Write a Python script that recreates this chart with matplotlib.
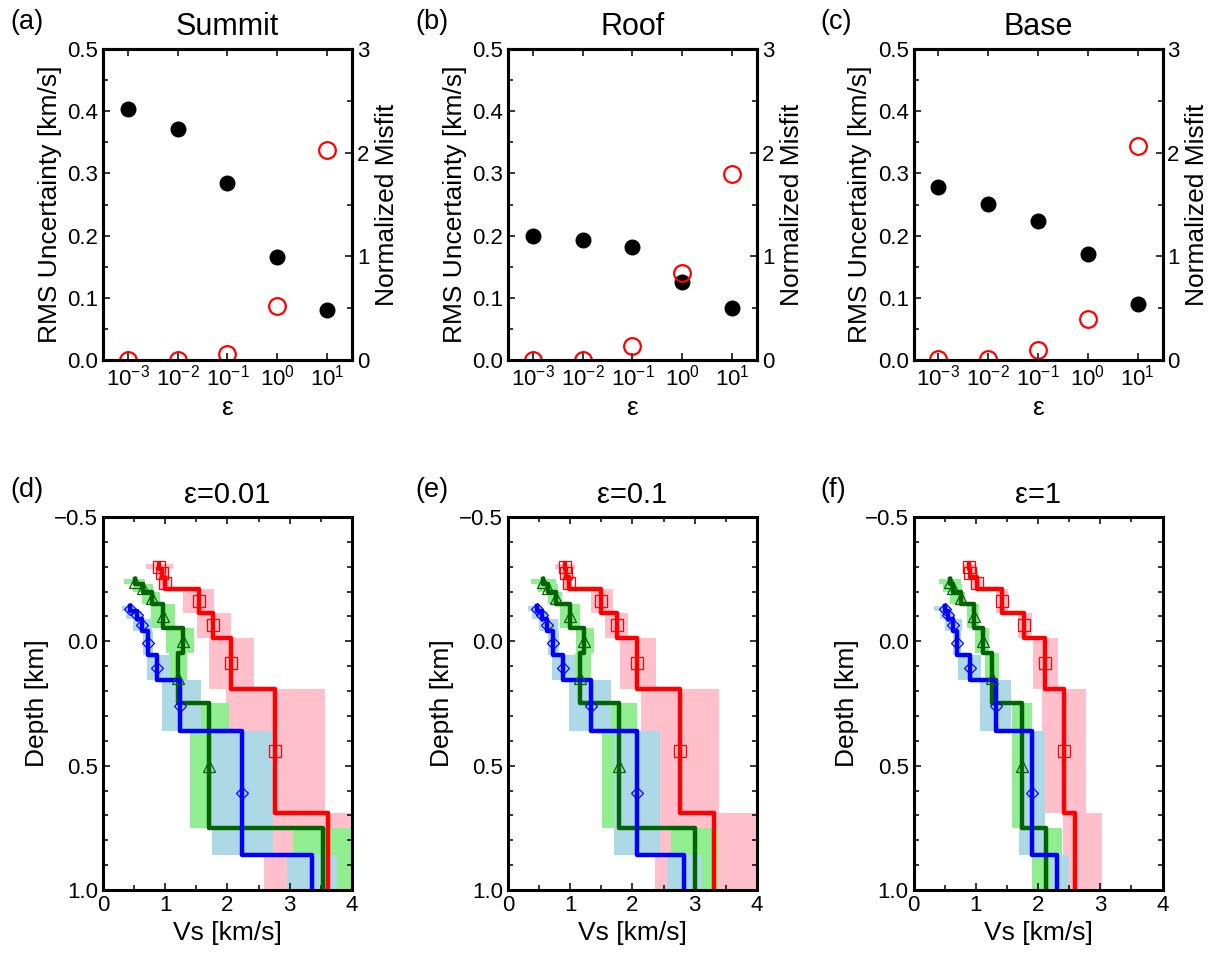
import numpy as np
import matplotlib
matplotlib.use('Agg')
import matplotlib.pyplot as plt
from matplotlib.ticker import MultipleLocator, LogLocator, NullLocator

# epsilon values and summary numbers (top row)
eps = [1e-3, 1e-2, 1e-1, 1e0, 1e1]
rms_summit = [0.403, 0.371, 0.285, 0.166, 0.080]
misfit_summit = [0.0, 0.0, 0.06, 0.52, 2.03]
rms_roof = [0.200, 0.193, 0.181, 0.125, 0.083]
misfit_roof = [0.0, 0.0, 0.135, 0.84, 1.79]
rms_base = [0.278, 0.251, 0.224, 0.171, 0.090]
misfit_base = [0.01, 0.01, 0.10, 0.40, 2.06]

# layer tops [km] for each site (last layer is the half-space)
z_summit = [-0.31, -0.29, -0.26, -0.21, -0.115, -0.013, 0.19, 0.69]
z_roof = [-0.25, -0.23, -0.20, -0.15, -0.053, 0.048, 0.25, 0.75]
z_base = [-0.14, -0.12, -0.09, -0.04, 0.056, 0.157, 0.36, 0.86]

# eps = 0.01
v_d_summit = [0.90, 0.95, 0.99, 1.54, 1.77, 2.05, 2.77, 3.61]
lo_d_summit = [0.69, 0.86, 0.90, 1.29, 1.51, 1.71, 1.98, 2.58]
hi_d_summit = [1.12, 1.05, 1.08, 1.79, 2.06, 2.43, 3.57, 4.50]
v_d_roof = [0.51, 0.65, 0.78, 0.97, 1.28, 1.20, 1.71, 3.53]
lo_d_roof = [0.34, 0.49, 0.62, 0.77, 1.01, 1.06, 1.39, 3.06]
hi_d_roof = [0.68, 0.81, 0.92, 1.15, 1.47, 1.35, 2.03, 4.50]
v_d_base = [0.44, 0.55, 0.62, 0.73, 0.87, 1.24, 2.24, 3.355]
lo_d_base = [0.30, 0.37, 0.48, 0.64, 0.70, 0.94, 1.75, 2.95]
hi_d_base = [0.50, 0.62, 0.79, 0.81, 1.08, 1.58, 2.73, 3.76]

# eps = 0.1
v_e_summit = [0.91, 0.94, 0.98, 1.50, 1.745, 2.08, 2.76, 3.31]
lo_e_summit = [0.75, 0.87, 0.90, 1.33, 1.56, 1.80, 2.13, 2.36]
hi_e_summit = [1.08, 1.01, 1.03, 1.69, 1.93, 2.38, 3.39, 4.50]
v_e_roof = [0.56, 0.645, 0.77, 0.99, 1.22, 1.15, 1.79, 3.01]
lo_e_roof = [0.37, 0.49, 0.64, 0.84, 1.10, 1.07, 1.51, 2.62]
hi_e_roof = [0.78, 0.80, 0.87, 1.16, 1.38, 1.34, 2.08, 3.37]
v_e_base = [0.46, 0.54, 0.62, 0.725, 0.886, 1.33, 2.08, 2.83]
lo_e_base = [0.32, 0.39, 0.50, 0.65, 0.71, 0.98, 1.70, 2.55]
hi_e_base = [0.54, 0.64, 0.81, 0.82, 1.07, 1.65, 2.45, 3.12]

# eps = 1
v_f_summit = [0.886, 0.91, 1.02, 1.42, 1.78, 2.12, 2.42, 2.59]
lo_f_summit = [0.80, 0.90, 0.94, 1.33, 1.68, 1.92, 2.07, 2.40]
hi_f_summit = [1.00, 1.03, 1.10, 1.52, 1.91, 2.32, 2.77, 3.03]
v_f_roof = [0.59, 0.64, 0.76, 0.97, 1.11, 1.26, 1.745, 2.13]
lo_f_roof = [0.41, 0.48, 0.59, 0.86, 0.99, 1.15, 1.58, 1.91]
hi_f_roof = [0.76, 0.78, 0.83, 1.06, 1.21, 1.37, 1.91, 2.39]
v_f_base = [0.50, 0.56, 0.63, 0.70, 0.90, 1.33, 1.90, 2.30]
lo_f_base = [0.33, 0.43, 0.51, 0.64, 0.71, 1.07, 1.69, 2.20]
hi_f_base = [0.58, 0.64, 0.78, 0.77, 1.09, 1.57, 2.11, 2.50]

plt.rcParams['font.family'] = ['Liberation Sans', 'DejaVu Sans']
plt.rcParams['mathtext.fontset'] = 'custom'
plt.rcParams['mathtext.rm'] = 'Liberation Sans'
plt.rcParams['mathtext.it'] = 'Liberation Sans:italic'
plt.rcParams['axes.linewidth'] = 2.2
for a in ['xtick', 'ytick']:
    plt.rcParams[a + '.direction'] = 'in'
    plt.rcParams[a + '.major.size'] = 5
    plt.rcParams[a + '.major.width'] = 1.1
    plt.rcParams[a + '.minor.size'] = 3.5
    plt.rcParams[a + '.minor.width'] = 1.1
    plt.rcParams[a + '.labelsize'] = 16

fig = plt.figure(figsize=(12.29, 9.58), dpi=100)

lefts = [0.0838, 0.4133, 0.7433]
w = 0.2026

# ---- top row: RMS uncertainty and misfit vs epsilon
top_data = [(rms_summit, misfit_summit, 'Summit', '(a)'),
            (rms_roof, misfit_roof, 'Roof', '(b)'),
            (rms_base, misfit_base, 'Base', '(c)')]
for left, (rms, mis, name, tag) in zip(lefts, top_data):
    ax = fig.add_axes([left, 0.6242, w, 0.3246])
    ax.plot(eps, rms, 'o', color='black', ms=10.5)
    ax.set_xscale('log')
    ax.set_xlim(10**-3.5, 10**1.5)
    ax.set_ylim(0, 0.5)
    ax.xaxis.set_major_locator(LogLocator(base=10, numticks=10))
    ax.xaxis.set_minor_locator(NullLocator())
    ax.yaxis.set_major_locator(MultipleLocator(0.1))
    ax.yaxis.set_minor_locator(MultipleLocator(0.05))
    ax.tick_params(axis='x', which='both', top=True)
    ax.set_xlabel('ε', fontsize=19)
    ax.set_ylabel('RMS Uncertainty [km/s]', fontsize=19)
    ax.set_title(name, fontsize=22, pad=10)

    ax2 = ax.twinx()
    ax2.plot(eps, mis, 'o', mfc='none', mec='red', mew=1.6, ms=12)
    ax2.set_ylim(0, 3)
    ax2.yaxis.set_major_locator(MultipleLocator(1))
    ax2.yaxis.set_minor_locator(MultipleLocator(0.5))
    ax2.set_ylabel('Normalized Misfit', fontsize=19)
    for s in ax2.spines.values():
        s.set_linewidth(2.2)

    fig.text(left - 0.0755, 1 - 22 / 958, tag, fontsize=19.5, va='center', ha='left')

# ---- bottom row: Vs profiles
fills = ['pink', 'lightgreen', 'lightblue']
lines = ['red', 'darkgreen', 'blue']
marks = ['s', '^', 'D']
tops = [z_summit, z_roof, z_base]

bottom_data = [
    ('ε=0.01', '(d)', [(v_d_summit, lo_d_summit, hi_d_summit),
                       (v_d_roof, lo_d_roof, hi_d_roof),
                       (v_d_base, lo_d_base, hi_d_base)]),
    ('ε=0.1', '(e)', [(v_e_summit, lo_e_summit, hi_e_summit),
                      (v_e_roof, lo_e_roof, hi_e_roof),
                      (v_e_base, lo_e_base, hi_e_base)]),
    ('ε=1', '(f)', [(v_f_summit, lo_f_summit, hi_f_summit),
                    (v_f_roof, lo_f_roof, hi_f_roof),
                    (v_f_base, lo_f_base, hi_f_base)]),
]

for left, (title, tag, profs) in zip(lefts, bottom_data):
    ax = fig.add_axes([left, 0.0710, w, 0.3894])

    # uncertainty boxes first
    for z, (v, lo, hi), fc in zip(tops, profs, fills):
        z = np.array(z)
        bot = np.append(z[1:], 1.5)
        lo = np.array(lo)
        hi = np.array(hi)
        ax.barh(z, hi - lo, height=bot - z, left=lo, align='edge',
                color=fc, lw=0, zorder=1)

    # step profiles and markers
    for z, (v, lo, hi), lc, mk in zip(tops, profs, lines, marks):
        z = np.array(z)
        bot = np.append(z[1:], 1.5)
        ys = np.column_stack([z, bot]).ravel()
        xs = np.repeat(v, 2)
        ax.plot(xs, ys, color=lc, lw=3.2, zorder=2)
        mids = (z[:-1] + bot[:-1]) / 2
        ax.plot(v[:-1], mids, mk, mfc='none', mec=lc, mew=0.9,
                ms=8 if mk != 'D' else 6.5, ls='none', zorder=3)

    ax.set_xlim(0, 4)
    ax.set_ylim(1.0, -0.5)
    ax.xaxis.set_major_locator(MultipleLocator(1))
    ax.xaxis.set_minor_locator(MultipleLocator(0.5))
    ax.yaxis.set_major_locator(MultipleLocator(0.5))
    ax.yaxis.set_minor_locator(MultipleLocator(0.1))
    ax.tick_params(which='both', top=True, right=True)
    ax.set_xlabel('Vs [km/s]', fontsize=19)
    ax.set_ylabel('Depth [km]', fontsize=19)
    ax.set_title(title, fontsize=21, pad=10)

    fig.text(left - 0.0755, 1 - 490 / 958, tag, fontsize=19.5, va='center', ha='left')

fig.savefig('out.png', dpi=100)
